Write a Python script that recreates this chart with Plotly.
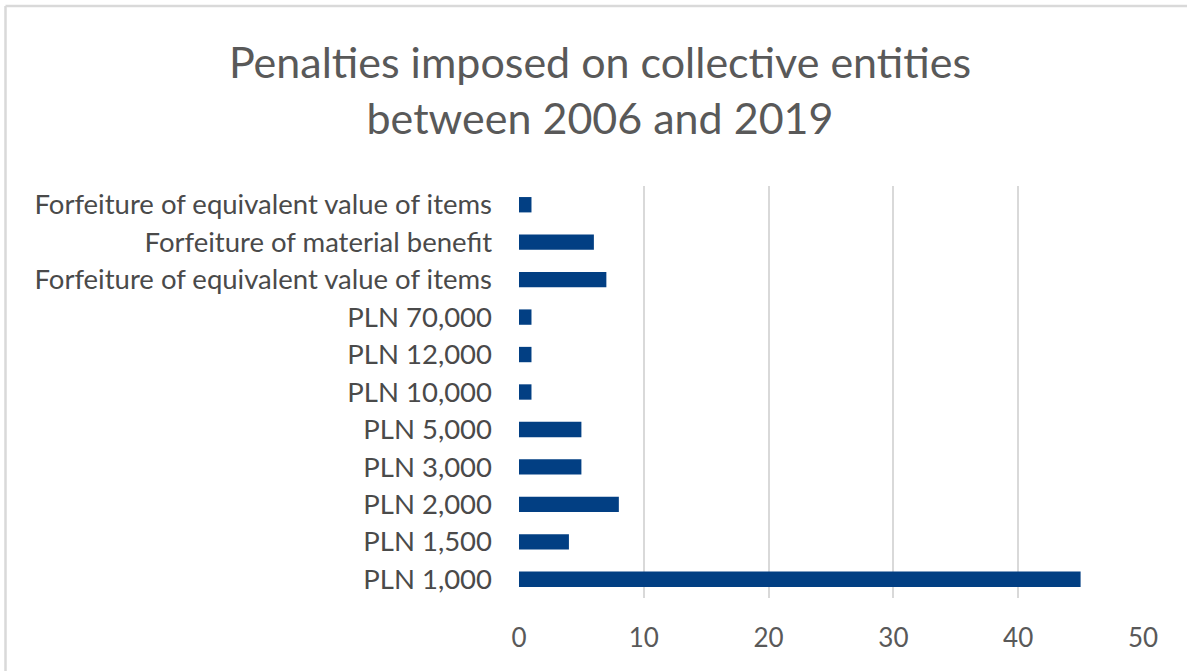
import plotly.graph_objects as go

categories = [
    "PLN 1,000", "PLN 1,500", "PLN 2,000", "PLN 3,000", "PLN 5,000",
    "PLN 10,000", "PLN 12,000", "PLN 70,000",
    "Forfeiture of equivalent value of items",
    "Forfeiture of material benefit",
    "Forfeiture of equivalent value of items",
]
values = [45, 4, 8, 5, 5, 1, 1, 1, 7, 6, 1]
x_ticks = [0, 10, 20, 30, 40, 50]

positions = list(range(len(categories)))

W, H = 1187, 671
L, R, T, B = 519, 44, 186, 73
pw, ph = W - L - R, H - T - B

def px_x(px):
    return (px - L) / pw

def px_y(py):
    return (H - B - py) / ph

fig = go.Figure(go.Bar(
    x=values, y=positions, orientation="h",
    marker=dict(color="#023F83", line=dict(width=0)),
    width=0.41,
))

fig.update_layout(
    width=W, height=H,
    margin=dict(l=L, r=R, t=T, b=B, autoexpand=False),
    paper_bgcolor="white", plot_bgcolor="white",
    showlegend=False,
    font=dict(family="Lato", color="#595959"),
    title=dict(
        text="Penalties imposed on collective entities<br>between 2006 and 2019",
        x=600 / W, xanchor="center", xref="container",
        y=1 - 78 / H, yanchor="top", yref="container",
        font=dict(size=43, color="#595959", family="Lato"),
    ),
    xaxis=dict(
        range=[0, 50], tickvals=x_ticks, showgrid=True,
        gridcolor="#D9D9D9", gridwidth=2, zeroline=False,
        tickfont=dict(size=26, color="#595959"),
        ticks="", showline=False, ticklabelstandoff=22,
    ),
    yaxis=dict(
        range=[-0.5, len(categories) - 0.5],
        tickvals=positions, ticktext=categories,
        showgrid=False, zeroline=False, showline=False,
        tickfont=dict(size=27.5, color="#4a4a4a"),
        ticks="", ticklabelstandoff=26,
    ),
    shapes=[
        dict(type="line", xref="paper", yref="paper",
             x0=px_x(5.5), x1=px_x(5.5), y0=px_y(6), y1=px_y(H + 5),
             line=dict(color="#D9D9D9", width=2.5)),
        dict(type="line", xref="paper", yref="paper",
             x0=px_x(5.5), x1=px_x(W + 5), y0=px_y(6), y1=px_y(6),
             line=dict(color="#D9D9D9", width=2.5)),
    ],
)

fig.write_html(
    "out.html",
    config={"displayModeBar": False},
    post_script="document.body.style.margin='0';document.body.style.overflow='hidden';",
)
